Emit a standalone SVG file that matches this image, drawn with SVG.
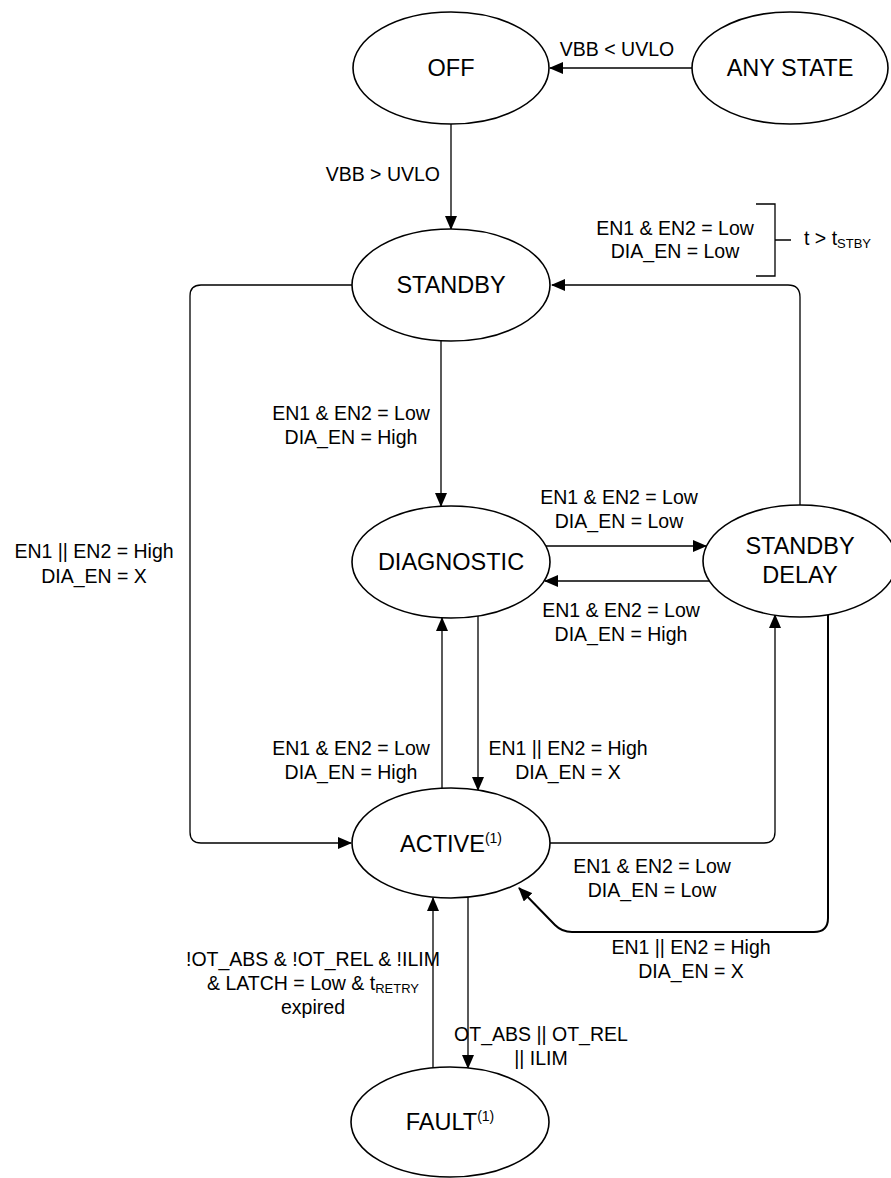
<svg xmlns="http://www.w3.org/2000/svg" width="891" height="1178" viewBox="0 0 891 1178">
<style>
.st{fill:#fff;stroke:#000;stroke-width:1.6}
.sn{font-family:"Liberation Sans",Arial,sans-serif;font-size:23.5px;fill:#000;text-anchor:middle}
.lb{font-family:"Liberation Sans",Arial,sans-serif;font-size:19.5px;fill:#000;text-anchor:middle}
.c{fill:none;stroke:#000;stroke-width:1.3}
.sup{font-size:14px}
.sub{font-size:13px}
</style>
<defs>
<marker id="ah" markerUnits="userSpaceOnUse" markerWidth="14" markerHeight="12" viewBox="0 0 14 12" refX="13" refY="6" orient="auto">
<path d="M0,0 L14,6 L0,12 Z" fill="#000"/>
</marker>
</defs>
<g id="connectors">
<line class="c" x1="692" y1="68" x2="550" y2="68" marker-end="url(#ah)"/>
<line class="c" x1="451" y1="124" x2="451" y2="229" marker-end="url(#ah)"/>
<path class="c" d="M800,505 V297 Q800,285 788,285 H552" marker-end="url(#ah)"/>
<path class="c" d="M352,285 H201 Q190,285 190,296 V832 Q190,843 201,843 H351" marker-end="url(#ah)"/>
<line class="c" x1="441" y1="341" x2="441" y2="506" marker-end="url(#ah)"/>
<line class="c" x1="546" y1="546" x2="706" y2="546" marker-end="url(#ah)"/>
<line class="c" x1="709" y1="581" x2="545" y2="581" marker-end="url(#ah)"/>
<line class="c" x1="442" y1="788" x2="442" y2="618" marker-end="url(#ah)"/>
<line class="c" x1="478" y1="616" x2="478" y2="790" marker-end="url(#ah)"/>
<path class="c" d="M550,843 H764 Q775,843 775,832 V615" marker-end="url(#ah)"/>
<path class="c" style="stroke-width:2" d="M828,615 V918 Q828,932 814,932 H572 Q562,932 555,925 L519,888" marker-end="url(#ah)"/>
<line class="c" x1="468" y1="897" x2="468" y2="1068" marker-end="url(#ah)"/>
<line class="c" x1="433" y1="1068" x2="433" y2="898" marker-end="url(#ah)"/>
<path class="c" d="M756,204 H775 V276 H756 M775,240 H791"/>
<text class="lb" x="617" y="56">VBB &lt; UVLO</text>
<text class="lb" x="440" y="181" style="text-anchor:end">VBB &gt; UVLO</text>
<text class="lb" x="675" y="235">EN1 &amp; EN2 = Low</text>
<text class="lb" x="675" y="258">DIA_EN = Low</text>
<text class="lb" x="804" y="245" style="text-anchor:start">t &gt; t<tspan class="sub" dy="3">STBY</tspan></text>
<text class="lb" x="351" y="420">EN1 &amp; EN2 = Low</text>
<text class="lb" x="351" y="444">DIA_EN = High</text>
<text class="lb" x="619" y="504">EN1 &amp; EN2 = Low</text>
<text class="lb" x="619" y="528">DIA_EN = Low</text>
<text class="lb" x="621" y="617">EN1 &amp; EN2 = Low</text>
<text class="lb" x="621" y="641">DIA_EN = High</text>
<text class="lb" x="94" y="558">EN1 || EN2 = High</text>
<text class="lb" x="94" y="583">DIA_EN = X</text>
<text class="lb" x="351" y="755">EN1 &amp; EN2 = Low</text>
<text class="lb" x="351" y="779">DIA_EN = High</text>
<text class="lb" x="568" y="755">EN1 || EN2 = High</text>
<text class="lb" x="568" y="779">DIA_EN = X</text>
<text class="lb" x="652" y="873">EN1 &amp; EN2 = Low</text>
<text class="lb" x="652" y="897">DIA_EN = Low</text>
<text class="lb" x="691" y="954">EN1 || EN2 = High</text>
<text class="lb" x="691" y="978">DIA_EN = X</text>
<text class="lb" x="313" y="966">!OT_ABS &amp; !OT_REL &amp; !ILIM</text>
<text class="lb" x="313" y="990">&amp; LATCH = Low &amp; t<tspan class="sub" dy="3">RETRY</tspan></text>
<text class="lb" x="313" y="1014">expired</text>
<text class="lb" x="541" y="1041">OT_ABS || OT_REL</text>
<text class="lb" x="541" y="1065">|| ILIM</text>
</g>
<g id="off"><ellipse class="st" cx="451" cy="68" rx="98" ry="56"/><text class="sn" x="451" y="76">OFF</text></g>
<g id="any-state"><ellipse class="st" cx="790" cy="68" rx="98" ry="56"/><text class="sn" x="790" y="76">ANY STATE</text></g>
<g id="standby"><ellipse class="st" cx="451" cy="285" rx="99" ry="56"/><text class="sn" x="451" y="293">STANDBY</text></g>
<g id="diagnostic"><ellipse class="st" cx="451" cy="562" rx="99" ry="56"/><text class="sn" x="451" y="570">DIAGNOSTIC</text></g>
<g id="standby-delay"><ellipse class="st" cx="800" cy="561" rx="97" ry="56"/><text class="sn" x="800" y="554">STANDBY</text><text class="sn" x="800" y="583">DELAY</text></g>
<g id="active"><ellipse class="st" cx="451" cy="843" rx="99" ry="55"/><text class="sn" x="451" y="852">ACTIVE<tspan class="sup" dy="-9">(1)</tspan></text></g>
<g id="fault"><ellipse class="st" cx="450" cy="1122" rx="99" ry="55"/><text class="sn" x="450" y="1130">FAULT<tspan class="sup" dy="-9">(1)</tspan></text></g>
</svg>
